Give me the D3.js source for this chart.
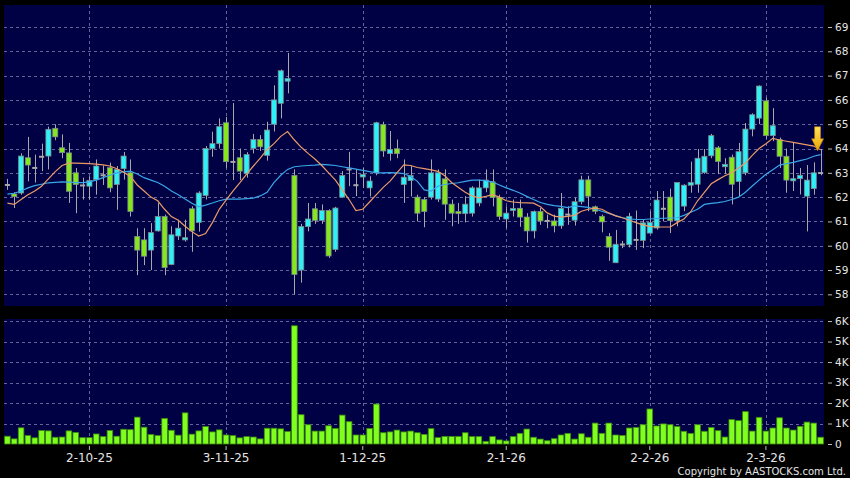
<!DOCTYPE html>
<html>
<head>
<meta charset="utf-8">
<script src="https://cdn.jsdelivr.net/npm/d3@7"></script>
<style>
body { margin: 0; background: #000; }
text { font-family: "DejaVu Sans", sans-serif; }
</style>
</head>
<body>
<div id="chart"></div>
<script>
// daily candles (price in HKD)
var openPx = [62.5, 62.13, 62.17, 63.62, 63.2, 63.66, 63.69, 64.83, 64.03, 63.82,
    63.0, 62.48, 62.45, 62.72, 62.9, 63.21, 62.52, 63.17, 63.0, 60.38,
    60.24, 59.82, 60.61, 61.2, 59.23, 60.4, 60.24, 61.52, 60.96, 62.07,
    64.0, 64.2, 65.06, 63.45, 63.62, 62.97, 64.0, 64.37, 63.72, 65.0,
    65.86, 66.77, 62.89, 59.0, 60.79, 61.52, 61.04, 61.45, 59.85, 62.0,
    63.14, 62.49, 62.83, 62.38, 63.0, 64.99, 63.79, 63.99, 62.52, 62.68,
    62.0, 61.9, 62.0, 61.92, 62.75, 61.71, 61.41, 61.32, 61.34, 61.76,
    62.38, 62.63, 61.99, 61.1, 61.45, 61.54, 61.18, 60.61, 61.41, 61.02,
    61.02, 60.82, 61.28, 61.05, 61.81, 62.71, 61.6, 61.21, 60.38, 59.3,
    60.05, 60.04, 60.24, 60.22, 60.52, 60.73, 61.52, 62.0, 61.03, 61.63,
    62.49, 62.53, 63.01, 63.7, 64.03, 63.25, 63.64, 62.64, 63.0, 64.8,
    65.25, 65.96, 64.53, 64.37, 63.68, 62.67, 62.76, 62.04, 62.35, 62.99];
var highPx = [62.75, 62.2, 63.8, 64.48, 63.75, 64.2, 64.9, 65.0, 64.58, 64.23,
    63.2, 62.8, 62.86, 63.55, 63.3, 63.42, 63.28, 63.86, 63.55, 60.72,
    60.72, 60.93, 61.76, 61.28, 60.8, 61.07, 61.07, 61.62, 62.24, 64.1,
    64.69, 65.24, 65.3, 65.87, 64.0, 63.85, 64.6, 64.55, 65.1, 66.6,
    67.25, 67.93, 63.14, 60.9, 61.76, 61.76, 61.7, 61.5, 61.6, 63.07,
    63.86, 63.14, 63.2, 62.86, 65.1, 65.1, 64.72, 64.37, 63.55, 63.28,
    62.1, 62.0, 63.55, 63.14, 63.14, 61.9, 61.76, 62.04, 62.45, 62.72,
    63.14, 63.14, 62.1, 61.62, 61.9, 61.9, 61.34, 61.45, 61.55, 61.28,
    61.28, 62.17, 61.62, 61.98, 62.88, 62.88, 61.65, 61.28, 60.52, 60.65,
    60.2, 61.35, 61.45, 61.07, 61.42, 62.25, 62.25, 62.35, 62.6, 62.53,
    63.46, 63.98, 63.98, 64.6, 64.1, 63.6, 63.75, 64.23, 65.05, 65.45,
    66.6, 66.1, 65.66, 64.45, 64.0, 64.23, 63.2, 63.32, 63.43, 63.98];
var lowPx = [62.3, 61.55, 62.1, 62.65, 62.6, 63.07, 63.14, 64.34, 63.6, 61.76,
    61.34, 61.9, 61.9, 62.1, 62.5, 62.2, 61.48, 62.72, 61.2, 58.79,
    59.2, 59.0, 60.58, 58.79, 59.2, 60.24, 60.17, 59.75, 60.58, 61.9,
    63.66, 64.0, 63.2, 62.7, 62.7, 62.8, 63.8, 63.9, 63.5, 64.7,
    65.24, 66.27, 58.0, 58.48, 60.59, 60.9, 60.9, 59.5, 59.75, 61.98,
    62.45, 62.04, 62.38, 62.03, 62.9, 63.66, 63.5, 63.6, 61.76, 62.03,
    61.0, 60.76, 61.9, 61.8, 61.07, 60.8, 60.9, 60.96, 61.2, 61.62,
    62.2, 61.62, 61.07, 60.72, 61.2, 60.78, 60.13, 60.3, 60.86, 60.72,
    60.55, 60.7, 60.86, 60.83, 61.7, 61.42, 61.3, 60.55, 59.38, 59.3,
    59.9, 59.93, 59.83, 59.9, 60.5, 60.66, 61.0, 60.52, 60.8, 61.42,
    62.18, 62.18, 62.96, 63.6, 62.95, 62.95, 61.7, 62.04, 62.9, 64.5,
    65.0, 64.4, 64.3, 63.2, 62.18, 62.25, 62.11, 60.59, 62.1, 62.9];
var closePx = [62.5, 62.02, 63.69, 63.32, 63.2, 63.66, 64.79, 64.48, 63.83, 62.24,
    62.52, 62.48, 62.68, 63.28, 62.9, 62.38, 63.14, 63.69, 61.41, 59.82,
    59.57, 60.54, 61.2, 59.1, 60.45, 60.72, 60.33, 60.61, 62.17, 64.0,
    64.2, 64.9, 63.46, 63.45, 63.07, 63.75, 64.37, 64.07, 64.76, 66.0,
    67.2, 66.88, 58.82, 60.79, 61.1, 61.04, 61.45, 59.58, 61.55, 62.89,
    63.14, 62.49, 62.93, 62.66, 65.06, 63.9, 63.96, 63.79, 62.82, 62.89,
    61.34, 61.41, 63.0, 63.0, 61.71, 61.34, 61.32, 61.71, 62.38, 62.38,
    62.7, 61.99, 61.2, 61.34, 61.53, 61.18, 60.61, 61.41, 61.02, 61.02,
    60.82, 61.54, 61.28, 61.81, 62.71, 62.04, 61.42, 60.98, 59.94, 60.06,
    60.05, 61.21, 60.24, 60.94, 60.96, 61.88, 61.52, 61.03, 62.6, 62.49,
    62.6, 63.6, 63.68, 64.53, 63.47, 63.35, 62.53, 63.87, 64.8, 65.39,
    66.57, 64.53, 64.94, 63.68, 62.7, 62.76, 62.9, 62.7, 63.0, 62.99];

// volume, shares
var volume = [380, 250, 790, 410, 300, 660, 640, 330, 340, 640,
    560, 310, 310, 490, 360, 660, 380, 720, 700, 1310,
    820, 460, 410, 1250, 670, 430, 1520, 480, 640, 850,
    590, 690, 440, 410, 300, 360, 340, 250, 770, 770,
    740, 610, 5770, 1430, 940, 630, 630, 890, 760, 1410,
    1090, 440, 440, 760, 1950, 550, 590, 680, 590, 630,
    550, 470, 750, 310, 370, 370, 370, 550, 360, 360,
    130, 360, 200, 150, 360, 520, 730, 330, 240, 160,
    260, 440, 520, 240, 500, 330, 1020, 520, 1020, 440,
    420, 780, 810, 940, 1710, 880, 980, 940, 850, 620,
    520, 940, 620, 810, 650, 340, 1190, 1140, 1580, 630,
    1300, 630, 780, 1280, 780, 680, 860, 1070, 1020, 330];

// moving averages as drawn (orange = 10 day, blue = 20 day)
var ma10 = [61.75, 61.7, 61.9, 62.1, 62.25, 62.45, 62.75, 63.05, 63.3, 63.4,
    63.4, 63.39, 63.38, 63.36, 63.33, 63.28, 63.17, 63.02, 62.85, 62.5,
    62.25, 62.0, 61.85, 61.5, 61.2, 61.05, 60.8, 60.58, 60.4, 60.5,
    60.95, 61.5, 61.88, 62.25, 62.59, 62.95, 63.28, 63.6, 63.95, 64.2,
    64.5, 64.7, 64.35, 64.05, 63.8, 63.57, 63.3, 63.0, 62.7, 62.3,
    61.9, 61.45, 61.5, 61.8, 62.1, 62.4, 62.66, 63.0, 63.33, 63.3,
    63.22, 63.17, 63.12, 63.06, 62.88, 62.6, 62.4, 62.2, 62.05, 61.97,
    62.03, 62.1, 62.0, 61.85, 61.8, 61.77, 61.76, 61.75, 61.6, 61.35,
    61.22, 61.18, 61.21, 61.25, 61.42, 61.5, 61.55, 61.5, 61.35, 61.23,
    61.15, 61.05, 60.95, 60.86, 60.8, 60.77, 60.77, 60.77, 60.95, 61.1,
    61.4, 61.85, 62.2, 62.55, 62.72, 62.88, 63.0, 63.2, 63.4, 63.72,
    64.0, 64.2, 64.42, 64.35, 64.3, 64.25, 64.2, 64.15, 64.1, 63.95];
var ma20 = [62.12, 62.16, 62.25, 62.38, 62.47, 62.53, 62.59, 62.61, 62.63, 62.62,
    62.6, 62.6, 62.63, 62.7, 62.8, 62.9, 63.0, 63.04, 63.07, 62.95,
    62.8, 62.7, 62.6, 62.45, 62.25, 62.1, 61.92, 61.75, 61.6, 61.67,
    61.76, 61.85, 61.92, 61.92, 61.92, 61.94, 61.96, 62.05, 62.2, 62.6,
    62.9, 63.14, 63.25, 63.28, 63.3, 63.32, 63.35, 63.33, 63.3, 63.25,
    63.2, 63.15, 63.1, 63.05, 63.0, 63.0, 63.01, 63.0, 62.97, 62.85,
    62.65, 62.3, 62.25, 62.45, 62.52, 62.56, 62.59, 62.65, 62.7, 62.7,
    62.68, 62.62, 62.5, 62.38, 62.28, 62.17, 62.03, 61.9, 61.78, 61.7,
    61.65, 61.62, 61.57, 61.64, 61.61, 61.58, 61.5, 61.42, 61.33, 61.24,
    61.15, 61.11, 61.08, 61.08, 61.1, 61.12, 61.13, 61.14, 61.15, 61.25,
    61.38, 61.5, 61.7, 61.74, 61.77, 61.82, 61.9, 62.0, 62.2, 62.46,
    62.7, 62.94, 63.13, 63.32, 63.38, 63.43, 63.5, 63.57, 63.68, 63.75];

var tickIndex = [12, 32, 52, 73, 94, 111];
var tickLabels = ["2-10-25", "3-11-25", "1-12-25", "2-1-26", "2-2-26", "2-3-26"];
var priceTicks = [58, 59, 60, 61, 62, 63, 64, 65, 66, 67, 68, 69];
var volTicks = [0, 1000, 2000, 3000, 4000, 5000, 6000];

var svgWidth = 850;
var svgHeight = 478;
var panel = { left: 4, right: 824, priceTop: 5, priceBottom: 306, volTop: 319, volBottom: 444 };

var upColor = "#2ff0f6";
var downColor = "#86e81c";
var gridColor = "#64649a";
var textColor = "#e4e4e4";

var svg = d3.select("#chart")
    .append("svg")
    .attr("width", svgWidth)
    .attr("height", svgHeight);

svg.append("rect")
    .attr("width", svgWidth)
    .attr("height", svgHeight)
    .attr("fill", "#000");

var idx = d3.range(openPx.length);

var xScale = d3.scaleBand()
    .domain(idx)
    .range([panel.left, panel.right])
    .paddingInner(0.26)
    .paddingOuter(0.13);

var xVol = d3.scaleBand()
    .domain(idx)
    .range([panel.left, panel.right])
    .paddingInner(0.18)
    .paddingOuter(0.09);

var cx = i => xScale(i) + xScale.bandwidth() / 2;

var yPrice = d3.scaleLinear()
    .domain([57.52, 69.905])
    .range([panel.priceBottom, panel.priceTop]);

var yVol = d3.scaleLinear()
    .domain([0, 6100])
    .range([panel.volBottom, panel.volTop]);

// panels
[[panel.priceTop, panel.priceBottom], [panel.volTop, panel.volBottom]].forEach(function (p) {
    svg.append("rect")
        .attr("x", panel.left)
        .attr("y", p[0])
        .attr("width", panel.right - panel.left)
        .attr("height", p[1] - p[0])
        .attr("fill", "#000044");
});

// grid
var grid = svg.append("g")
    .attr("stroke", gridColor)
    .attr("stroke-width", 1)
    .attr("stroke-dasharray", "3,3");

grid.selectAll(".hp")
    .data(priceTicks)
    .enter()
    .append("line")
    .attr("x1", panel.left)
    .attr("x2", panel.right)
    .attr("y1", d => Math.round(yPrice(d)) + 0.5)
    .attr("y2", d => Math.round(yPrice(d)) + 0.5);

grid.selectAll(".hv")
    .data(volTicks.filter(d => d > 0))
    .enter()
    .append("line")
    .attr("x1", panel.left)
    .attr("x2", panel.right)
    .attr("y1", d => Math.round(yVol(d)) + 0.5)
    .attr("y2", d => Math.round(yVol(d)) + 0.5);

tickIndex.forEach(function (t) {
    var x = Math.round(cx(t)) + 0.5;
    grid.append("line")
        .attr("x1", x).attr("x2", x)
        .attr("y1", panel.priceTop).attr("y2", panel.priceBottom);
    grid.append("line")
        .attr("x1", x).attr("x2", x)
        .attr("y1", panel.volTop).attr("y2", panel.volBottom);
});

// volume bars
svg.append("g")
    .selectAll("rect")
    .data(volume)
    .enter()
    .append("rect")
    .attr("x", (d, i) => xVol(i))
    .attr("y", d => yVol(d))
    .attr("width", xVol.bandwidth())
    .attr("height", d => panel.volBottom - yVol(d))
    .attr("fill", "#80ff1e")
    .attr("stroke", "#3c8a10")
    .attr("stroke-width", 0.8);

// candles
var candles = svg.append("g");

candles.selectAll("line")
    .data(idx)
    .enter()
    .append("line")
    .attr("x1", i => Math.round(cx(i)) + 0.5)
    .attr("x2", i => Math.round(cx(i)) + 0.5)
    .attr("y1", i => yPrice(highPx[i]))
    .attr("y2", i => yPrice(lowPx[i]))
    .attr("stroke", "#a8a8a8")
    .attr("stroke-width", 1);

candles.selectAll("rect")
    .data(idx)
    .enter()
    .append("rect")
    .attr("x", i => xScale(i))
    .attr("width", xScale.bandwidth())
    .attr("y", function (i) {
        var top = yPrice(Math.max(openPx[i], closePx[i]));
        return openPx[i] === closePx[i] ? top - 1 : top;
    })
    .attr("height", function (i) {
        var h = Math.abs(yPrice(openPx[i]) - yPrice(closePx[i]));
        return openPx[i] === closePx[i] ? 2 : Math.max(h, 1.5);
    })
    .attr("fill", function (i) {
        if (closePx[i] > openPx[i]) return upColor;
        if (closePx[i] < openPx[i]) return downColor;
        return "#a8a8a8";
    })
    .attr("stroke", i => openPx[i] === closePx[i] ? "none" : "#7c8c8c")
    .attr("stroke-width", 0.8);

// moving averages
var maLine = d3.line()
    .x((d, i) => cx(i))
    .y(d => yPrice(d));

svg.append("path")
    .datum(ma20)
    .attr("d", maLine)
    .attr("fill", "none")
    .attr("stroke", "#3aa6ea")
    .attr("stroke-width", 1.2);

svg.append("path")
    .datum(ma10)
    .attr("d", maLine)
    .attr("fill", "none")
    .attr("stroke", "#eb9a68")
    .attr("stroke-width", 1.2);

// down arrow on the last bar
var defs = svg.append("defs");
var grad = defs.append("linearGradient")
    .attr("id", "arrowFill")
    .attr("x1", 0).attr("y1", 0).attr("x2", 0).attr("y2", 1);
grad.append("stop").attr("offset", "0%").attr("stop-color", "#ffe25a");
grad.append("stop").attr("offset", "100%").attr("stop-color", "#eaa400");

var last = openPx.length - 1;
var ax = cx(last) - 3;
var ay = yPrice(ma10[last]) + 1;
svg.append("path")
    .attr("d", `M${ax - 3},${ay - 24} L${ax + 3},${ay - 24} L${ax + 3},${ay - 12} L${ax + 6},${ay - 12} L${ax},${ay} L${ax - 6},${ay - 12} L${ax - 3},${ay - 12} Z`)
    .attr("fill", "url(#arrowFill)")
    .attr("stroke", "#b87a00")
    .attr("stroke-width", 0.6);

// right axes
var priceAxis = svg.append("g")
    .attr("transform", `translate(${panel.right + 4}, 0)`)
    .call(d3.axisRight(yPrice).tickValues(priceTicks).tickSize(4).tickPadding(3).tickFormat(d3.format("d")));

var volAxis = svg.append("g")
    .attr("transform", `translate(${panel.right + 4}, 0)`)
    .call(d3.axisRight(yVol).tickValues(volTicks).tickSize(4).tickPadding(3)
        .tickFormat(d => d === 0 ? "0" : (d / 1000) + "K"));

var dateAxis = svg.append("g")
    .attr("transform", `translate(0, ${panel.volBottom + 2})`)
    .call(d3.axisBottom(xScale).tickValues(tickIndex).tickSize(4).tickPadding(3)
        .tickFormat(d => tickLabels[tickIndex.indexOf(d)]));

[priceAxis, volAxis, dateAxis].forEach(function (g) {
    g.select(".domain").remove();
    g.selectAll(".tick line").attr("stroke", "#bbbbbb");
    g.selectAll(".tick text")
        .attr("fill", textColor)
        .attr("font-family", "DejaVu Sans, sans-serif");
});
priceAxis.selectAll(".tick text").attr("font-size", "10.5px");
volAxis.selectAll(".tick text").attr("font-size", "10.5px");
dateAxis.selectAll(".tick text").attr("font-size", "12px");

svg.append("text")
    .attr("x", 846)
    .attr("y", 475)
    .attr("text-anchor", "end")
    .attr("font-size", "10px")
    .attr("fill", textColor)
    .text("Copyright by AASTOCKS.com Ltd.");
</script>
</body>
</html>
